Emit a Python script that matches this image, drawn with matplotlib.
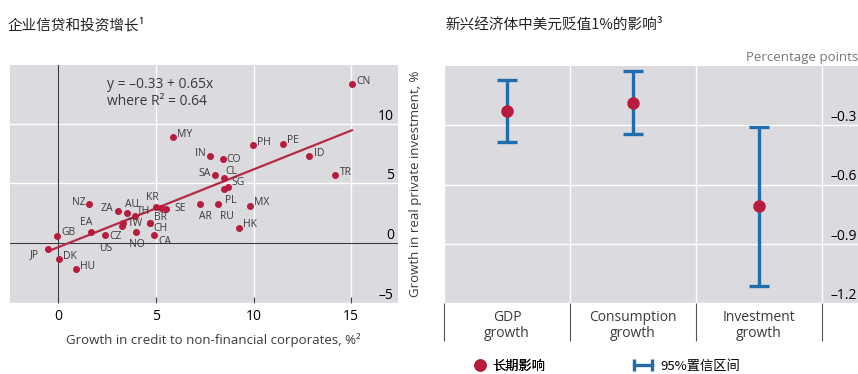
import numpy as np
import matplotlib
matplotlib.use("Agg")
import matplotlib.pyplot as plt
from matplotlib.lines import Line2D
from matplotlib.legend_handler import HandlerLine2D

LATIN = ["Open Sans", "DejaVu Sans"]
CJK = ["Noto Sans CJK SC", "DejaVu Sans"]
plt.rcParams["font.family"] = LATIN

BG = "#dadadf"
RED = "#b81c3c"
BLUE = "#1f6dad"
DARK = "#3a3a3a"

# credit growth vs investment growth, by economy
countries = ["CN", "MY", "PH", "PE", "IN", "CO", "ID", "SA", "CL", "TR",
             "SG", "PL", "NZ", "ZA", "AU", "TH", "KR", "SE", "BR", "CH",
             "TW", "CZ", "NO", "CA", "US", "EA", "GB", "JP", "DK", "HU",
             "AR", "RU", "MX", "HK"]
credit_growth = [15.04, 5.85, 9.97, 11.51, 7.78, 8.41, 12.86, 8.03, 8.46, 14.19,
                 8.67, 8.48, 1.59, 3.03, 3.54, 3.90, 5.01, 5.52, 4.67, 4.67,
                 3.33, 3.25, 3.98, 4.91, 2.39, 1.66, -0.08, -0.51, 0.04, 0.91,
                 7.27, 8.19, 9.80, 9.26]
invest_growth = [13.28, 8.88, 8.19, 8.33, 7.30, 7.08, 7.30, 5.69, 5.45, 5.67,
                 4.72, 4.50, 3.28, 2.69, 2.50, 2.30, 3.05, 2.86, 1.72, 1.72,
                 1.67, 1.47, 0.97, 0.69, 0.69, 0.92, 0.64, -0.47, -1.31, -2.17,
                 3.28, 3.28, 3.14, 1.30]
second_kr = (5.25, 2.97)
fit_intercept, fit_slope, fit_r2 = -0.33, 0.65, 0.64

# label placement (offset in points, horizontal alignment)
label_pos = {
    "CN": (3, 2, "left"), "MY": (3, 2, "left"), "PH": (3, 2, "left"),
    "PE": (3, 2, "left"), "IN": (-3, 2, "right"), "CO": (3, -1, "left"),
    "ID": (3, 2, "left"), "SA": (-3, 1, "right"), "CL": (1, 5, "left"),
    "TR": (3, 2, "left"), "SG": (3, 3, "left"), "PL": (1, -8, "left"),
    "NZ": (-3, 1, "right"), "ZA": (-3, 2, "right"), "AU": (-2, 6, "left"),
    "TH": (2, 3, "left"), "KR": (-7, 7, "left"), "SE": (6, 0, "left"),
    "BR": (3, 4, "left"), "CH": (3, -4, "left"), "TW": (3, 0, "left"),
    "CZ": (-9, -8, "left"), "NO": (-5, -9, "left"), "CA": (3, -5, "left"),
    "US": (-4, -10, "left"), "EA": (-8, 7, "left"), "GB": (3, 2, "left"),
    "JP": (-7, -4, "right"), "DK": (3, 2, "left"), "HU": (3, 2, "left"),
    "AR": (-1, -9, "left"), "RU": (1, -9, "left"), "MX": (3, 2, "left"),
    "HK": (3, 2, "left"),
}

# effect of a 1% dollar depreciation
effect_names = ["GDP\ngrowth", "Consumption\ngrowth", "Investment\ngrowth"]
effect_mean = [-0.228, -0.186, -0.710]
ci_low = [-0.384, -0.346, -1.114]
ci_high = [-0.071, -0.025, -0.308]

fig = plt.figure(figsize=(8.58, 3.74), dpi=100)

# ---- left: scatter with regression line ----
ax1 = fig.add_axes([10 / 858, 1 - 303 / 374, 388 / 858, 238 / 374])
ax1.set_facecolor(BG)
for s in ax1.spines.values():
    s.set_visible(False)
ax1.set_xlim(-2.48, 17.4)
ax1.set_ylim(-5, 14.9)
ax1.set_xticks([0, 5, 10, 15])
ax1.set_xticklabels(["0", "5", "10", "15"], fontsize=10)
ax1.set_yticks([-5, 0, 5, 10])
ax1.set_yticklabels(["–5", "0", "5", "10"], fontsize=10)
ax1.yaxis.tick_right()
ax1.tick_params(axis="y", length=0, pad=-3)
for lbl in ax1.get_yticklabels():
    lbl.set_ha("right")
    lbl.set_va("bottom")
ax1.tick_params(axis="x", direction="in", length=4, width=0.8, color=DARK, pad=4)
ax1.grid(True, color="white", lw=1)
ax1.set_axisbelow(True)
ax1.axhline(0, color=DARK, lw=0.8, zorder=1)
ax1.axvline(0, color=DARK, lw=0.8, zorder=1)

xs = np.array([min(credit_growth), max(credit_growth)])
ax1.plot(xs, fit_intercept + fit_slope * xs, color="#b52b45", lw=1.6, zorder=2)
ax1.plot(credit_growth, invest_growth, "o", color=RED, ms=4, zorder=3)
ax1.plot(*second_kr, "o", color=RED, ms=4, zorder=3)
for c, x, y in zip(countries, credit_growth, invest_growth):
    dx, dy, ha = label_pos[c]
    ax1.annotate(c, (x, y), xytext=(dx, dy), textcoords="offset points",
                 ha=ha, va="center", fontsize=7.5, color=DARK)
ax1.text(2.48, 13.9, f"y = –{abs(fit_intercept):.2f} + {fit_slope:.2f}x\n"
         f"where R² = {fit_r2:.2f}", fontsize=10, va="top", ha="left",
         color=DARK, linespacing=1.15)
ax1.set_xlabel("Growth in credit to non-financial corporates, %²",
               fontsize=9.5, color=DARK)
ax1.xaxis.set_label_coords(0.523, -0.125)
fig.text(415 / 858, 1 - 184 / 374, "Growth in real private investment, %",
         rotation=90, ha="center", va="center", fontsize=9.5, color=DARK)

# ---- right: point estimates with confidence intervals ----
ax2 = fig.add_axes([444 / 858, 1 - 303 / 374, 414 / 858, 237 / 374])
ax2.set_facecolor(BG)
for s in ax2.spines.values():
    s.set_visible(False)
pos = np.arange(len(effect_names))
ax2.set_xlim(-0.5, 2.786)
ax2.set_ylim(-1.2, 0)
ax2.set_xticks(pos)
ax2.set_xticklabels(effect_names, fontsize=10, color=DARK, linespacing=1.1)
ax2.set_xticks(np.arange(-0.5, 3, 1), minor=True)
ax2.tick_params(axis="x", which="major", length=0, pad=5)
ax2.tick_params(axis="x", which="minor", direction="out", length=27,
                width=0.8, color="#555555")
ax2.set_yticks([-1.2, -0.9, -0.6, -0.3])
ax2.set_yticklabels(["–1.2", "–0.9", "–0.6", "–0.3"], fontsize=10)
ax2.yaxis.tick_right()
ax2.tick_params(axis="y", length=0, pad=-1)
for lbl in ax2.get_yticklabels():
    lbl.set_ha("right")
    lbl.set_va("bottom")
ax2.grid(True, axis="y", color="white", lw=1)
ax2.grid(True, axis="x", which="minor", color="white", lw=1)
ax2.set_axisbelow(True)

mean = np.array(effect_mean)
yerr = [mean - np.array(ci_low), np.array(ci_high) - mean]
ax2.errorbar(pos, mean, yerr=yerr, fmt="none", ecolor=BLUE, elinewidth=2.4,
             capsize=7, capthick=2.4, zorder=3)
ax2.plot(pos, mean, "o", color=RED, ms=8, zorder=4)
ax2.text(1.0, 1.01, "Percentage points", transform=ax2.transAxes,
         ha="right", va="bottom", fontsize=9.5, color="#777777")

# titles
fig.text(8 / 858, 1 - 25 / 374, "企业信贷和投资增长¹", family=CJK,
         fontsize=10.5, va="center", ha="left", color="#222222")
fig.text(445 / 858, 1 - 25 / 374, "新兴经济体中美元贬值1%的影响³", family=CJK,
         fontsize=10.5, va="center", ha="left", color="#222222")

# legend
dot = Line2D([], [], ls="none", marker="o", color=RED, ms=8)
bar = Line2D([], [], ls="-", lw=2.4, marker="|", mew=2.4, ms=8, color=BLUE)
leg1 = fig.legend([dot], ["长期影响"], loc="center left",
                  bbox_to_anchor=(462 / 858, 1 - 366 / 374), frameon=False,
                  handlelength=1, handletextpad=0.4, prop={"family": CJK, "size": 9.5})
leg2 = fig.legend([bar], ["95%置信区间"], loc="center left",
                  bbox_to_anchor=(618 / 858, 1 - 366 / 374), frameon=False,
                  handlelength=2, handletextpad=0.3, prop={"family": CJK, "size": 9.5},
                  handler_map={bar: HandlerLine2D(numpoints=2)})
fig.add_artist(leg1)

fig.savefig("out.png", dpi=100)
